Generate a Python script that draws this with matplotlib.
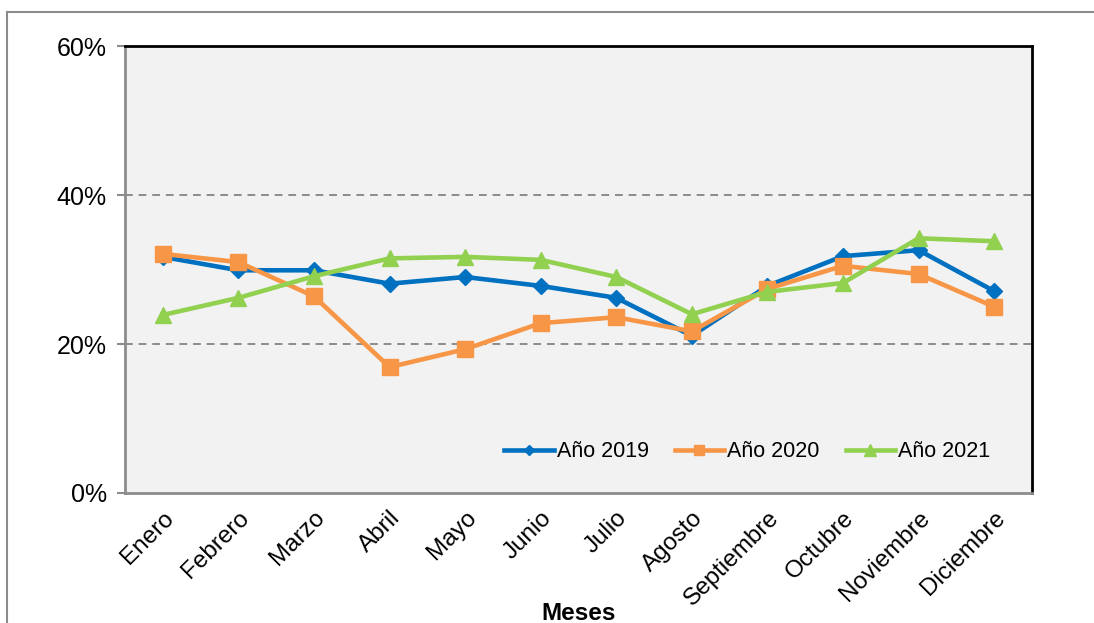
import matplotlib
matplotlib.use("Agg")
import matplotlib.pyplot as plt
from matplotlib.ticker import PercentFormatter, FixedLocator
from matplotlib.lines import Line2D

meses = ["Enero", "Febrero", "Marzo", "Abril", "Mayo", "Junio", "Julio",
         "Agosto", "Septiembre", "Octubre", "Noviembre", "Diciembre"]
anio_2019 = [31.7, 29.9, 29.9, 28.1, 29.0, 27.8, 26.2, 21.1, 27.8, 31.8, 32.6, 27.1]
anio_2020 = [32.1, 31.0, 26.4, 16.9, 19.3, 22.8, 23.6, 21.7, 27.4, 30.5, 29.4, 25.0]
anio_2021 = [23.9, 26.2, 29.1, 31.5, 31.7, 31.3, 29.0, 24.0, 27.0, 28.2, 34.2, 33.8]
y_ticks = [0, 20, 40, 60]

plt.rcParams["font.family"] = ["Liberation Sans", "DejaVu Sans"]

fig = plt.figure(figsize=(10.94, 6.23), dpi=100)
ax = fig.add_axes([0.1143, 0.2087, 0.8290, 0.7173])
ax.set_facecolor("#F2F2F2")

x = list(range(len(meses)))
ax.plot(x, anio_2019, color="#0070C0", lw=3.3, marker="D", ms=8, label="Año 2019", zorder=3)
ax.plot(x, anio_2020, color="#F79646", lw=3.3, marker="s", ms=11, label="Año 2020", zorder=4)
ax.plot(x, anio_2021, color="#92D050", lw=3.3, marker="^", ms=12, label="Año 2021", zorder=5)

ax.set_xlim(-0.5, len(meses) - 0.5)
ax.set_ylim(0, 60)
ax.yaxis.set_major_locator(FixedLocator(y_ticks))
ax.yaxis.set_major_formatter(PercentFormatter(decimals=0))
for v in y_ticks[1:-1]:
    ax.axhline(v, color="#8C8C8C", lw=1.4, ls=(0, (4, 3)), zorder=1)

ax.set_xticks(x)
ax.set_xticklabels(meses, rotation=45, ha="right", rotation_mode="anchor", fontsize=17.5)
ax.tick_params(axis="x", length=0, pad=10)
ax.tick_params(axis="y", length=6, width=1.5, color="#8C8C8C", labelsize=18, pad=7)

for s in ["left", "bottom"]:
    ax.spines[s].set_color("#8C8C8C")
    ax.spines[s].set_linewidth(2)
for s in ["top", "right"]:
    ax.spines[s].set_color("black")
    ax.spines[s].set_linewidth(2)

ax.legend(loc="center", bbox_to_anchor=(0.686, 0.092), ncol=3, frameon=False,
          fontsize=15.5, handlelength=2.3, handletextpad=0.15, columnspacing=1.2,
          markerscale=0.7)

fig.text(0.529, 0.016, "Meses", ha="center", va="center", fontsize=17.5, fontweight="bold")

# borde exterior (arriba e izquierda)
fig.add_artist(Line2D([0.0064, 0.999], [1 - 12 / 623, 1 - 12 / 623], color="#8C8C8C", lw=1.5,
                      transform=fig.transFigure))
fig.add_artist(Line2D([0.0064, 0.0064], [0, 1 - 12 / 623], color="#8C8C8C", lw=1.5,
                      transform=fig.transFigure))

fig.savefig("out.png", dpi=100)
